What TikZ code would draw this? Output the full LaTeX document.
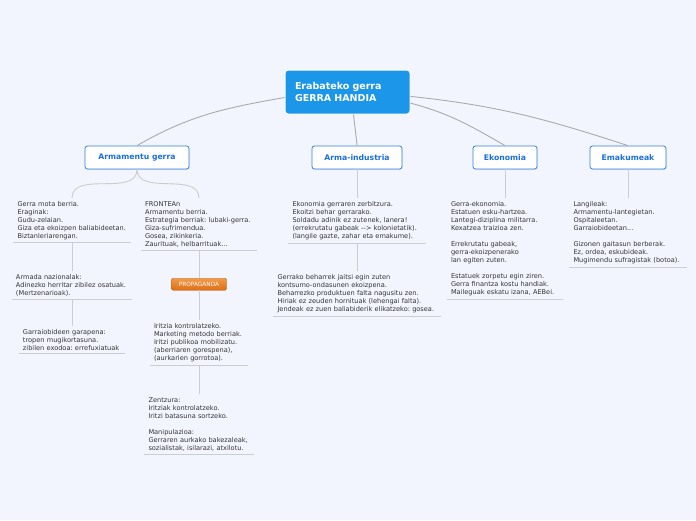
\documentclass[tikz,border=0pt]{standalone}
\usepackage{fontspec}
\setmainfont{DejaVu Sans}
\usepackage{xcolor}
\usetikzlibrary{positioning,shadows}
\frenchspacing
\definecolor{bgblue}{HTML}{F2F5FD}
\definecolor{rootblue}{HTML}{1B96E8}
\definecolor{headblue}{HTML}{2F80E6}
\definecolor{headtext}{HTML}{1A6FDC}
\definecolor{subtext}{HTML}{333333}
\definecolor{linkgray}{HTML}{ABABAB}
\definecolor{linegray}{HTML}{CDCDCD}
\definecolor{proptop}{HTML}{F29A48}
\definecolor{propbot}{HTML}{DC6E14}

\begin{document}
\begin{tikzpicture}[x=1pt,y=-1pt,node distance=28pt,
  root/.style={draw=white,line width=1pt,fill=rootblue,rounded corners=3pt,text=white,
    font=\fontsize{9.5}{12}\selectfont\bfseries,align=left,text width=105pt,inner xsep=10pt,
    minimum height=44pt},
  head/.style={draw=headblue,line width=0.8pt,fill=white,rounded corners=2.5pt,text=headtext,
    font=\fontsize{7.7}{9}\selectfont\bfseries,minimum height=23pt,inner sep=0pt,
    drop shadow={opacity=0.2,shadow xshift=0.6pt,shadow yshift=-0.8pt}},
  prop/.style={top color=proptop,bottom color=propbot,draw=propbot!85!black,line width=0.4pt,
    rounded corners=1.5pt,text=white,font=\fontsize{5.8}{7}\selectfont,minimum width=55pt,
    minimum height=12pt,inner sep=0pt},
  uline/.style={draw=linegray,line width=0.9pt},
  link/.style={draw=linkgray,line width=0.9pt},
  sub/.style={font=\fontsize{6.6}{8}\selectfont,text=subtext,align=left,inner xsep=4pt,
    inner ysep=3pt,anchor=north,
    append after command={(\tikzlastnode.south west) edge[uline] (\tikzlastnode.south east)}}]

  \fill[bgblue] (0,0) rectangle (696,520);
  \useasboundingbox (0,0) rectangle (696,520);

  \node[root] (root) at (347.5,92) {Erabateko gerra\\GERRA HANDIA};

  \node[head,minimum width=104pt] (arm) at (137,157.5) {Armamentu gerra};
  \node[head,minimum width=90pt] (indus) at (357,157.5) {Arma-industria};
  \node[head,minimum width=64pt] (eko) at (505,157.5) {Ekonomia};
  \node[head,minimum width=76pt] (emak) at (628,157.5) {Emakumeak};

  \node[sub,text width=109pt] (arm1) at (72,198)
    {Gerra mota berria.\\Eraginak:\\Gudu-zelaian.\\Giza eta ekoizpen baliabideetan.\\Biztanleriarengan.};
  \node[sub,text width=112pt,below=of arm1] (arm2)
    {Armada nazionalak:\\Adinezko herritar zibilez osatuak.\\(Mertzenarioak).};
  \node[sub,text width=98pt,below=27pt of arm2] (arm3)
    {Garraiobideen garapena:\\tropen mugikortasuna.\\zibilen exodoa: errefuxiatuak};

  \node[sub,text width=108pt] (front) at (199,198)
    {FRONTEAn\\Armamentu berria.\\Estrategia berriak: lubaki-gerra.\\Giza-sufrimendua.\\Gosea, zikinkeria.\\Zaurituak, helbarrituak...};
  \node[prop,below=of front] (prop) {PROPAGANDA};
  \node[sub,text width=90pt,below=30pt of prop] (prop1)
    {Iritzia kontrolatzeko.\\Marketing metodo berriak.\\Iritzi publikoa mobilizatu.\\(aberriaren gorespena),\\(aurkarien gorrotoa).};
  \node[sub,text width=101pt,below=29pt of prop1] (prop2)
    {Zentzura:\\Iritziak kontrolatzeko.\\Iritzi batasuna sortzeko.\\[8pt]Manipulazioa:\\Gerraren aurkako bakezaleak,\\sozialistak, isilarazi, atxilotu.};

  \node[sub,text width=129pt,below=29pt of indus] (ind1)
    {Ekonomia gerraren zerbitzura.\\Ekoitzi behar gerrarako.\\Soldadu adinik ez zutenek, lanera!\\(errekrutatu gabeak -{}-{}> kolonietatik).\\(langile gazte, zahar eta emakume).};
  \node[sub,text width=159pt,below=of ind1] (ind2)
    {Gerrako beharrek jaitsi egin zuten\\kontsumo-ondasunen ekoizpena.\\Beharrezko produktuen falta nagusitu zen.\\Hiriak ez zeuden hornituak (lehengai falta).\\Jendeak ez zuen baliabiderik elikatzeko: gosea.};

  \node[sub,text width=108pt,below=29pt of eko] (eko1)
    {Gerra-ekonomia.\\Estatuen esku-hartzea.\\Lantegi-diziplina militarra.\\Kexatzea traizioa zen.\\[8pt]Errekrutatu gabeak,\\gerra-ekoizpenerako\\lan egiten zuten.\\[8pt]Estatuek zorpetu egin ziren.\\Gerra finantza kostu handiak.\\Maileguak eskatu izana, AEBei.};

  \node[sub,text width=109pt,below=29pt of emak] (emak1)
    {Langileak:\\Armamentu-lantegietan.\\Ospitaleetan.\\Garraiobideetan...\\[8pt]Gizonen gaitasun berberak.\\Ez, ordea, eskubideak.\\Mugimendu sufragistak (botoa).};

  \draw[link] (root.185) to[out=190,in=30] (arm.north);
  \draw[link] ([xshift=6pt]root.south) to[out=-84,in=95] (indus.north);
  \draw[link] (root.-10) to[out=-15,in=150] (eko.north);
  \draw[link] (root.-4) to[out=-6,in=162] (emak.north);

  \draw[uline] (arm.south) to[out=-90,in=90] (arm1.north);
  \draw[uline] (arm.south) to[out=-90,in=90] (front.north);
  \draw[uline] (arm1) -- (arm2);
  \draw[uline] (arm2) -- (arm3);
  \draw[uline] (front) -- (prop);
  \draw[uline] (prop) -- (prop1);
  \draw[uline] (prop1) -- (prop2);
  \draw[uline] (indus) -- (ind1);
  \draw[uline] (ind1) -- (ind2);
  \draw[uline] (eko) -- (eko1);
  \draw[uline] (emak) -- (emak1);
\end{tikzpicture}
\end{document}
